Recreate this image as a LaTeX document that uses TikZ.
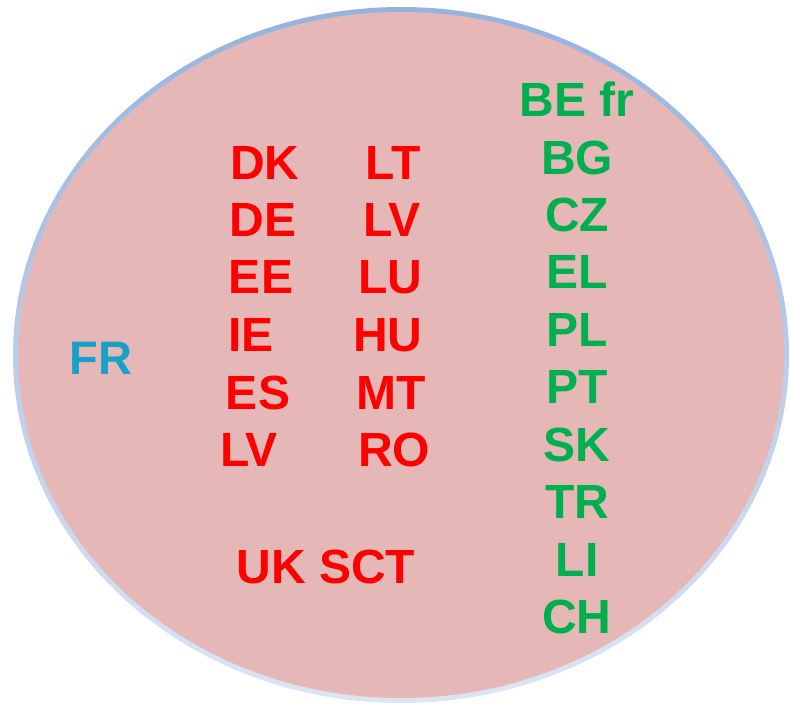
\documentclass[tikz,border=0pt]{standalone}
\usepackage{fontspec}
\setmainfont{Liberation Sans}
\begin{document}
\begin{tikzpicture}[x=1pt,y=-1pt,
  lbl/.style={inner sep=0pt,font=\bfseries\fontsize{48}{48}\selectfont},
  redlbl/.style={lbl,text=redtxt},
  grnlbl/.style={lbl,text=grntxt},
  frlbl/.style={lbl,text=frtxt,font=\bfseries\fontsize{47}{47}\selectfont}]
\definecolor{redtxt}{HTML}{FF0000}
\definecolor{grntxt}{HTML}{00B050}
\definecolor{frtxt}{HTML}{17A0C8}
\definecolor{fillc}{HTML}{E5B8B7}
\definecolor{bordtop}{HTML}{95B3E0}
\definecolor{bordbot}{HTML}{DCE5F4}
\useasboundingbox (0,0) rectangle (790,704);
\shade[top color=bordtop,bottom color=bordbot] (401,355) ellipse [x radius=388,y radius=348];
\fill[fillc] (401,355) ellipse [x radius=383,y radius=343];
\node[frlbl] (fr) at (101,358) {FR};
\node[redlbl] (dk) at (265,163) {DK};
\node[redlbl] (de) at (263,220) {DE};
\node[redlbl] (ee) at (261,277) {EE};
\node[redlbl] (ie) at (251,335) {IE};
\node[redlbl] (es) at (258,393) {ES};
\node[redlbl] (lv1) at (249,450) {LV};
\node[redlbl] (lt) at (393,163) {LT};
\node[redlbl] (lv2) at (392,220) {LV};
\node[redlbl] (lu) at (390,277) {LU};
\node[redlbl] (hu) at (388,335) {HU};
\node[redlbl] (mt) at (391,393) {MT};
\node[redlbl] (ro) at (394,450) {RO};
\node[redlbl] (uk) at (326,567) {UK SCT};
\node[grnlbl] (be) at (577,99) {BE fr};
\node[grnlbl] (bg) at (577,158) {BG};
\node[grnlbl] (cz) at (577,215) {CZ};
\node[grnlbl] (el) at (577,272) {EL};
\node[grnlbl] (pl) at (577,330) {PL};
\node[grnlbl] (pt) at (577,387) {PT};
\node[grnlbl] (sk) at (577,445) {SK};
\node[grnlbl] (tr) at (577,502) {TR};
\node[grnlbl] (li) at (577,560) {LI};
\node[grnlbl] (ch) at (577,617) {CH};
\end{tikzpicture}
\end{document}
